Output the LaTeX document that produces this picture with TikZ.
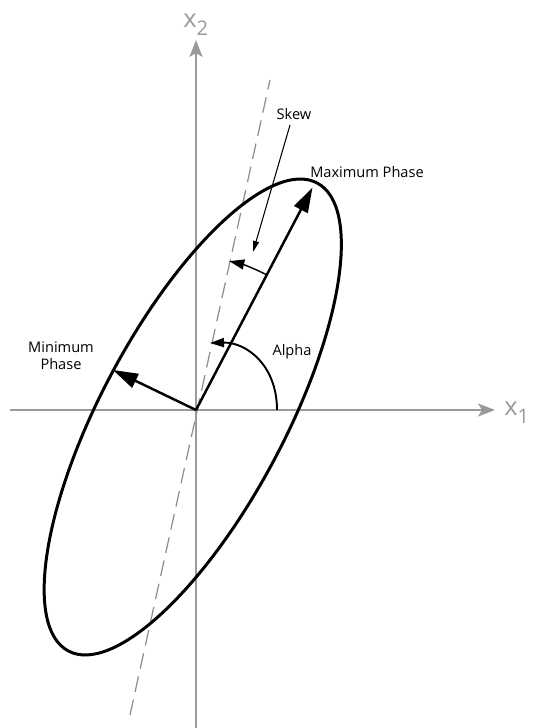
\documentclass[tikz,border=0pt]{standalone}
\usepackage{fontspec}
\setmainfont{Open Sans}
\usetikzlibrary{arrows.meta, positioning}
\definecolor{axisgray}{HTML}{9A9A9A}
\definecolor{dashgray}{HTML}{8E8E8E}

\begin{document}
\begin{tikzpicture}[font=\fontsize{8.3}{9.8}\selectfont, x=1cm, y=1cm,
    axisline/.style={axisgray, line width=0.8pt, -{Stealth[length=0.34cm, width=0.26cm, inset=0.08cm]}},
    axislabel/.style={axisgray, inner sep=0pt, font=\fontsize{14.5}{15}\selectfont},
    phasearrow/.style={line width=1.4pt, -{Triangle[length=0.5cm, width=0.3cm]}},
    skewline/.style={dashgray, line width=0.7pt, dash pattern=on 9pt off 4.5pt},
    skewarc/.style={line width=0.8pt, -{Triangle[length=0.3cm, width=0.2cm]}},
    alphaarc/.style={line width=1.1pt, -{Triangle[length=0.28cm, width=0.18cm]}},
    pointer/.style={line width=0.6pt, -{Triangle[length=0.22cm, width=0.12cm]}},
    lbl/.style={inner sep=1pt, align=center}]
\useasboundingbox (-3.92,-6.36) rectangle (6.84,8.2);

% axes
\coordinate (O) at (0,0);
\coordinate (xstart) at (-3.72,0);
\coordinate (xend) at (5.98,0);
\coordinate (ystart) at (0,-6.36);
\coordinate (yend) at (0,7.4);
\draw[axisline] (xstart) -- (xend);
\draw[axisline] (ystart) -- (yend);
\node[axislabel, anchor=base west] (xonelabel) at (6.16,-0.12)
    {x\raisebox{-4.5pt}{\fontsize{11.5}{12}\selectfont 1}};
\node[axislabel, anchor=base west] (xtwolabel) at (-0.26,7.64)
    {x\raisebox{-4.5pt}{\fontsize{11.5}{12}\selectfont 2}};

% skew line through the origin
\coordinate (dashbot) at (-1.32,-6.1);
\coordinate (dashtop) at (1.48,6.6);
\draw[skewline] (dashbot) -- (dashtop);

% ellipse
\draw[line width=1.7pt, rotate around={62:(-0.065,-0.14)}] (-0.065,-0.14) ellipse (5.3 and 1.84);

% phase arrows
\coordinate (maxend) at (2.33,4.45);
\coordinate (minend) at (-1.66,0.8);
\draw[phasearrow] (O) -- (maxend);
\draw[phasearrow] (O) -- (minend);

% angles
\coordinate (skewa) at (62.6:3.05);
\draw[skewarc] (skewa) arc[start angle=62.6, end angle=77.4, radius=3.05];
\coordinate (alphaa) at (1.62,0);
\coordinate (alphab) at (0.28,1.34);
\draw[alphaarc] (alphaa) .. controls (1.62,0.9) and (1.0,1.36) .. (alphab);

% labels
\node[lbl] (skewlabel) at (1.96,5.92) {Skew};
\node[lbl] (maxlabel) at (3.42,4.75) {Maximum Phase};
\node[lbl] (minlabel) at (-2.7,1.08) {Minimum\\Phase};
\node[lbl] (alphalabel) at (1.92,1.16) {Alpha};
\coordinate (skewfrom) at (1.88,5.7);
\coordinate (skewto) at (1.14,3.16);
\draw[pointer] (skewfrom) -- (skewto);
\end{tikzpicture}
\end{document}
